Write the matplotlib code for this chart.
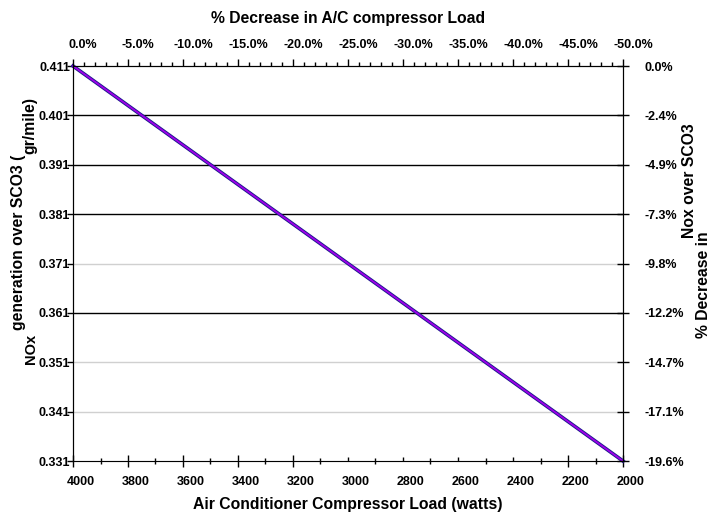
import matplotlib
matplotlib.use('Agg')
import matplotlib.pyplot as plt
import matplotlib.lines as mlines
from matplotlib.ticker import MultipleLocator, FixedLocator
from matplotlib.transforms import ScaledTranslation

plt.rcParams['font.family'] = ['Liberation Sans', 'DejaVu Sans']
plt.rcParams['font.weight'] = 'bold'

# data
load_watts = [4000, 3500, 3000, 2500, 2000]
nox = [0.411, 0.391, 0.371, 0.351, 0.331]

y_ticks = [0.411, 0.401, 0.391, 0.381, 0.371, 0.361, 0.351, 0.341, 0.331]
y_labels = ['0.411', '0.401', '0.391', '0.381', '0.371', '0.361', '0.351', '0.341', '0.331']
dark_grid = [0.401, 0.391, 0.381, 0.361]
light_grid = [0.371, 0.351, 0.341]
right_labels = ['0.0%', '-2.4%', '-4.9%', '-7.3%', '-9.8%', '-12.2%', '-14.7%', '-17.1%', '-19.6%']
top_ticks = [0, -5, -10, -15, -20, -25, -30, -35, -40, -45, -50]
top_labels = ['0.0%', '-5.0%', '-10.0%', '-15.0%', '-20.0%', '-25.0%',
              '-30.0%', '-35.0%', '-40.0%', '-45.0%', '-50.0%']
bottom_ticks = [4000, 3800, 3600, 3400, 3200, 3000, 2800, 2600, 2400, 2200, 2000]
bottom_minor = [3900, 3700, 3500, 3300, 3100, 2900, 2700, 2500, 2300, 2100]

GRAY = '#c8c8c8'
TS = 9      # tick label size
LS = 11.3   # axis title size

fig = plt.figure(figsize=(7.11, 5.12), dpi=100)
ax = fig.add_axes([73/711, 1 - 461/512, 550/711, 395/512])

for g in dark_grid:
    ax.axhline(g, color='black', lw=1.0, zorder=1)
for g in light_grid:
    ax.axhline(g, color='#d0d0d0', lw=1.0, zorder=1)

ax.plot(load_watts, nox, color='#1a1a8c', lw=2.6, zorder=3, clip_on=False)
ax.plot(load_watts, nox, color='#a000e8', lw=1.3, zorder=4, clip_on=False)

ax.set_xlim(4000, 2000)
ax.set_ylim(0.331, 0.411)
ax.set_yticks(y_ticks)
ax.set_yticklabels(y_labels, fontsize=TS, fontweight='bold')
ax.tick_params(axis='y', direction='out', length=4, width=1, pad=-2)

ax.xaxis.set_major_locator(FixedLocator(bottom_ticks))
ax.xaxis.set_minor_locator(FixedLocator(bottom_minor))
ax.set_xticklabels([str(t) for t in bottom_ticks], fontsize=TS, fontweight='bold')
ax.tick_params(axis='x', which='major', direction='inout', length=9, width=1, pad=6)
ax.tick_params(axis='x', which='minor', direction='inout', length=4, width=1)
# some of the bottom ticks render faint in the original
faint_major = [3000, 2800, 2600, 2400]
faint_minor = [3300, 2900, 2500, 2100]
for t, pos in zip(ax.xaxis.get_major_ticks(), bottom_ticks):
    if pos in faint_major:
        t.tick1line.set_marker(mlines.TICKUP)
        t.tick1line.set_markersize(3)
        t.tick1line.set_color(GRAY)
for t, pos in zip(ax.xaxis.get_minor_ticks(), bottom_minor):
    if pos in faint_minor:
        t.tick1line.set_color(GRAY)
off = ScaledTranslation(8/100, 0, fig.dpi_scale_trans)
for lab in ax.get_xticklabels():
    lab.set_transform(lab.get_transform() + off)
ax.set_xlabel('Air Conditioner Compressor Load (watts)', fontsize=LS,
              fontweight='bold', labelpad=7)

ax.spines['bottom'].set_color(GRAY)
for s in ['left', 'right', 'top']:
    ax.spines[s].set_color('black')

# top axis: percent decrease in load
top = ax.twiny()
top.set_xlim(0, -50)
top.xaxis.set_major_locator(FixedLocator(top_ticks))
top.xaxis.set_minor_locator(MultipleLocator(1))
top.set_xticklabels(top_labels, fontsize=TS, fontweight='bold')
top.tick_params(axis='x', which='major', direction='out', length=5, width=1, pad=6)
top.tick_params(axis='x', which='minor', direction='out', length=3, width=1)
off2 = ScaledTranslation(10/100, 0, fig.dpi_scale_trans)
for lab in top.get_xticklabels():
    lab.set_transform(lab.get_transform() + off2)
top.set_xlabel('% Decrease in A/C compressor Load', fontsize=LS,
               fontweight='bold', labelpad=11)

# right axis: percent decrease in NOx
right = top.twinx()
right.set_ylim(0.331, 0.411)
right.set_yticks(y_ticks)
right.set_yticklabels(right_labels, fontsize=TS, fontweight='bold')
right.tick_params(axis='y', direction='inout', length=9, width=1, pad=11)
faint_right = ['0.0%', '-2.4%', '-9.8%', '-12.2%', '-19.6%']
for t, lab in zip(right.yaxis.get_major_ticks(), right_labels):
    if lab in faint_right:
        t.tick2line.set_color(GRAY)
for s in right.spines.values():
    s.set_visible(False)

# y labels (split the way the original renders them)
fig.text(31/711, 1 - 349/512, 'NOx', rotation=90, ha='center', va='center',
         fontsize=10.5, fontweight='bold')
fig.text(19/711, 1 - 242/512, 'generation over SCO3 (', rotation=90,
         ha='center', va='center', fontsize=LS, fontweight='bold')
fig.text(30/711, 1 - 125/512, 'gr/mile)', rotation=90, ha='center',
         va='center', fontsize=LS, fontweight='bold')
fig.text(689/711, 1 - 181/512, 'Nox over SCO3', rotation=90, ha='center',
         va='center', fontsize=LS, fontweight='bold')
fig.text(703/711, 1 - 285/512, '% Decrease in', rotation=90, ha='center',
         va='center', fontsize=LS, fontweight='bold')

fig.savefig('out.png', dpi=100)
